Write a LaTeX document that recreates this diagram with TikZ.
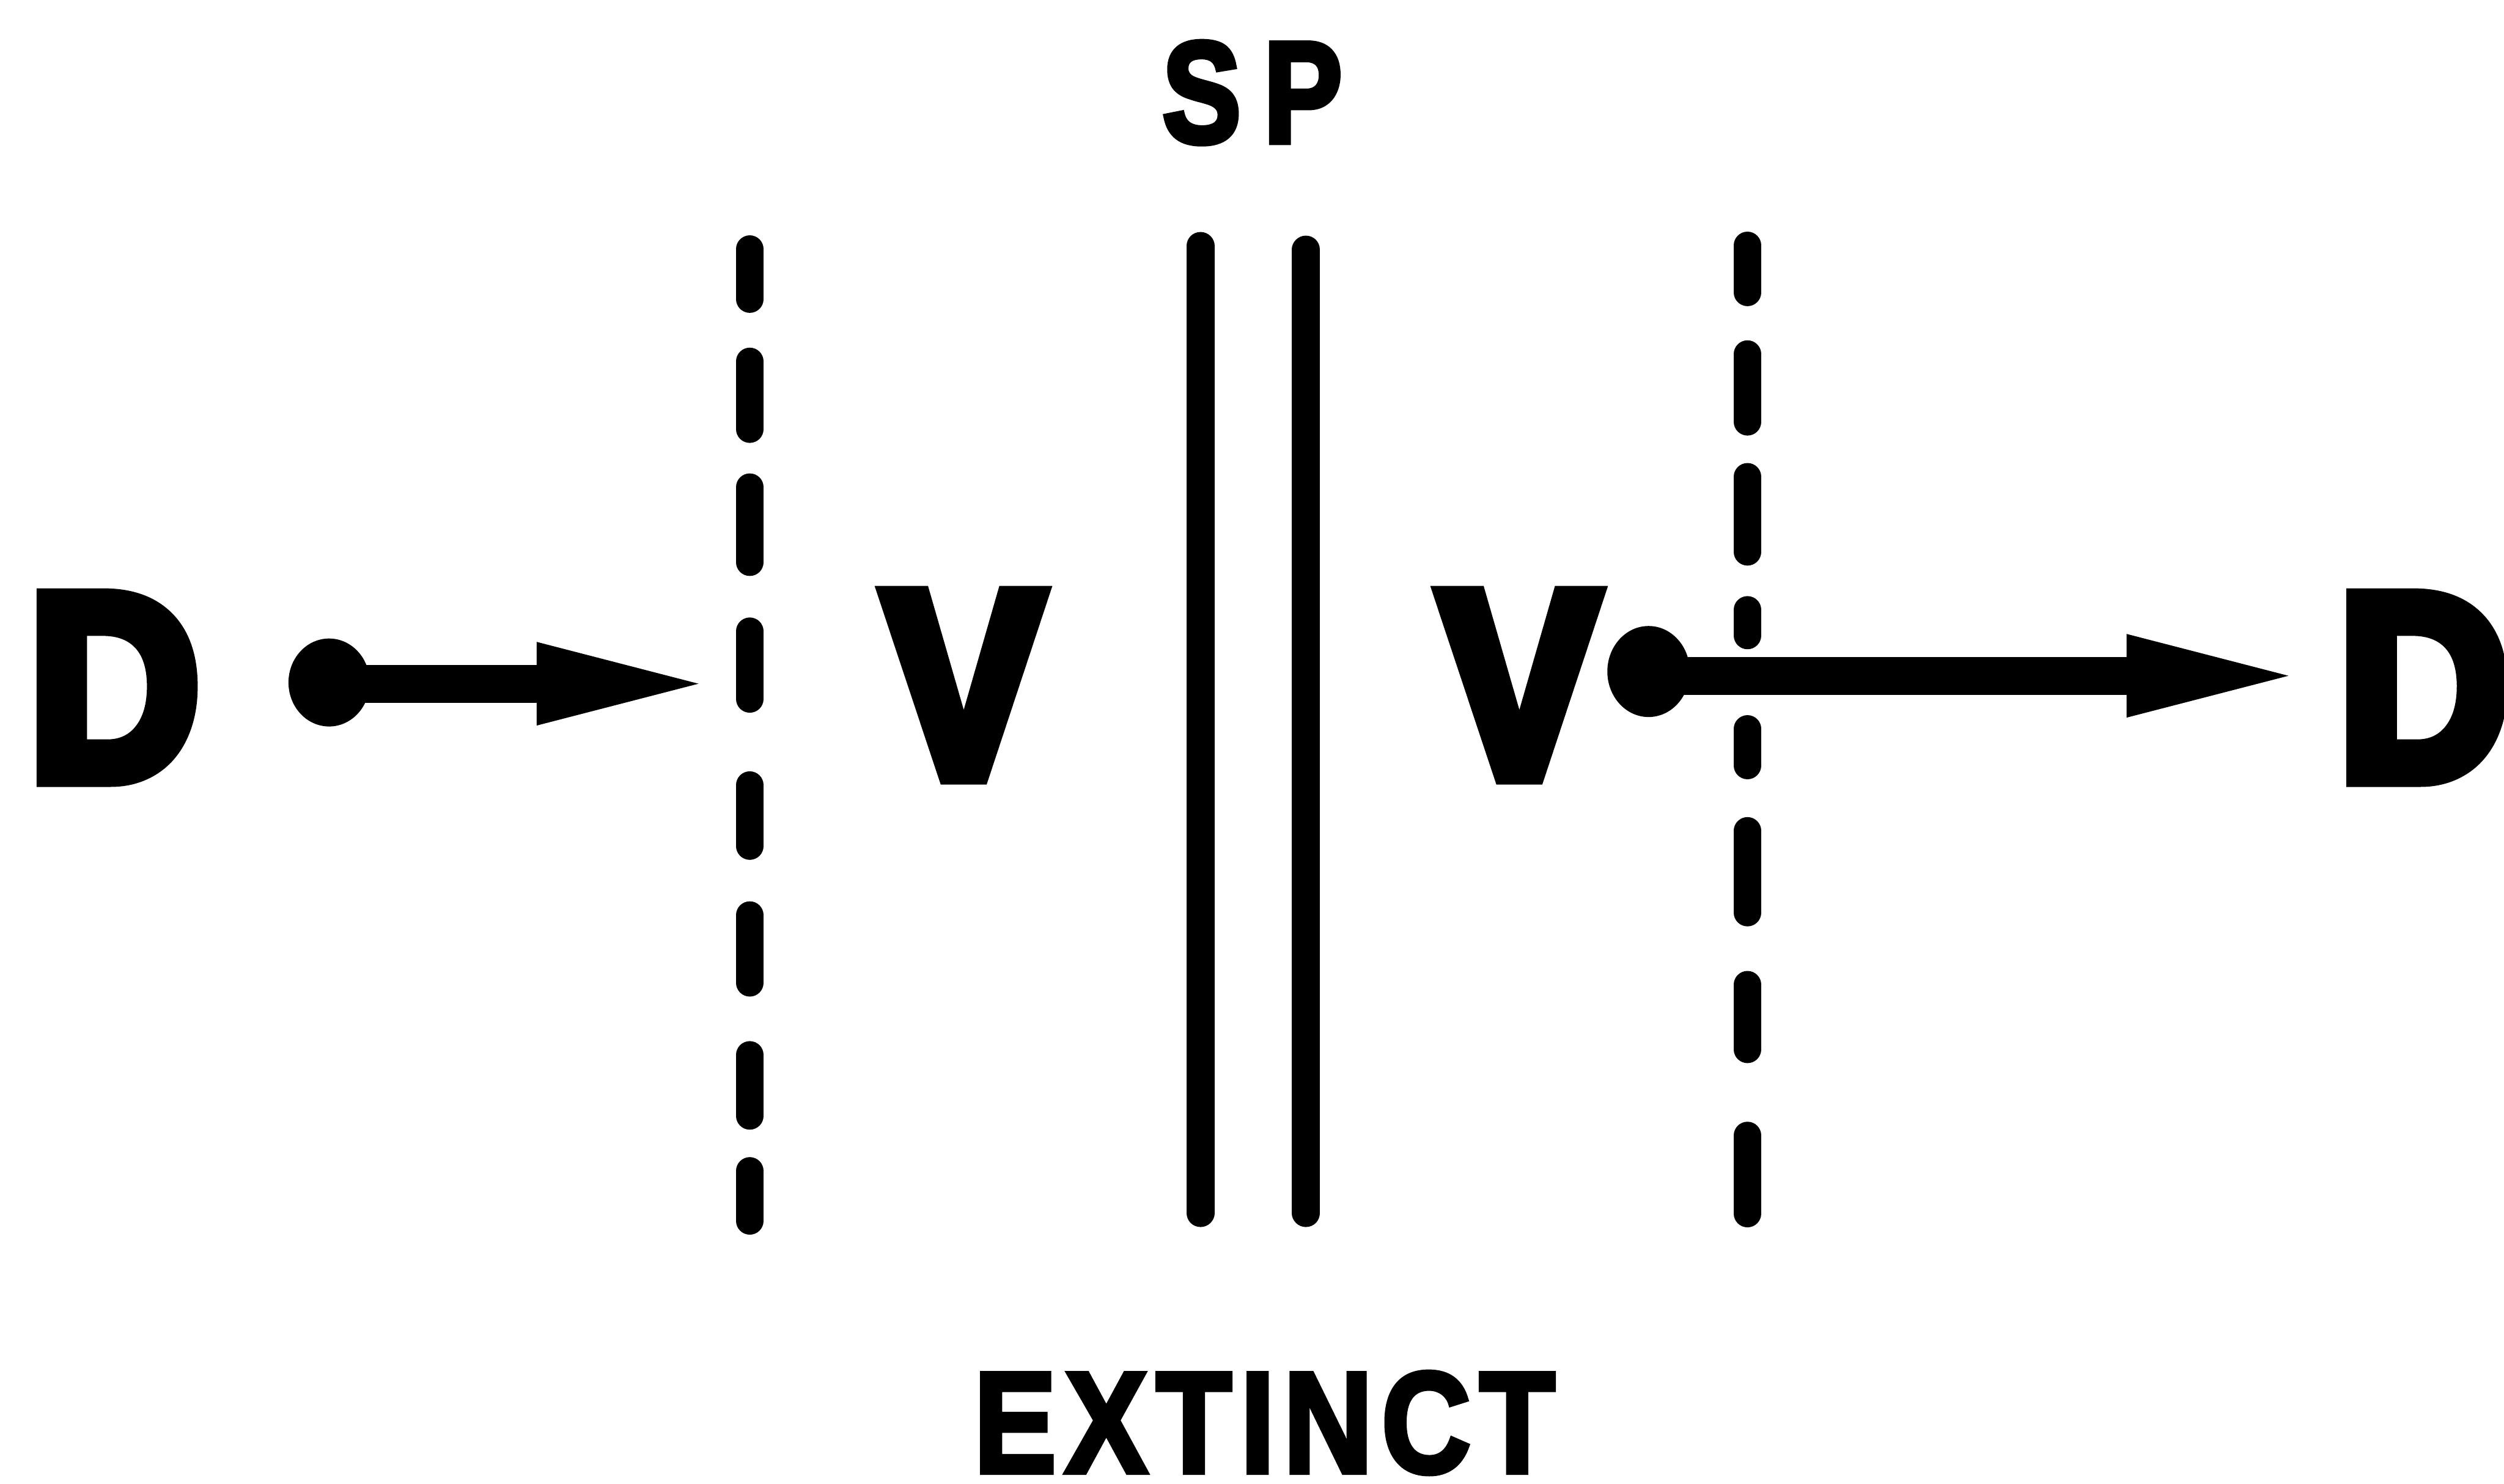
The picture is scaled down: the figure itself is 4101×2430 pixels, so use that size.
\documentclass[tikz,border=0pt]{standalone}
\usepackage{fontspec}
\setmainfont{Liberation Sans}
\newfontfamily\heavyfont{Liberation Sans Bold}[FakeBold=7]
\newfontfamily\labelfont{Liberation Sans Bold}[FakeBold=4]
\newfontfamily\extfont{Liberation Sans Bold}[FakeBold=3.5, LetterSpace=7]
\usetikzlibrary{arrows.meta,shapes.geometric}
\begin{document}
\begin{tikzpicture}[x=0.01cm,y=-0.01cm,
  bigletter/.style={inner sep=0pt, anchor=base, font=\heavyfont\fontsize{122pt}{124pt}\selectfont},
  lbl/.style={inner sep=0pt, anchor=base, font=\labelfont\fontsize{67pt}{70pt}\selectfont},
  extlbl/.style={inner sep=0pt, anchor=base, font=\extfont\fontsize{67pt}{70pt}\selectfont},
  dotnode/.style={ellipse, fill=black, inner sep=0pt, minimum width=1.33cm, minimum height=1.44cm},
  shaft/.style={line width=0.62cm, -{Triangle[length=2.65cm,width=1.37cm,line width=0pt]}},
  dashseg/.style={line width=0.45cm, line cap=round},
  barline/.style={line width=0.46cm, line cap=round}]
\useasboundingbox[fill=white] (0,0) rectangle (4101,2430);

% letters
\node[bigletter, xscale=0.9] (Dl) at (187,1274) {D};
\node[bigletter, xscale=0.9] (Vl) at (1578,1270) {V};
\node[bigletter, xscale=0.9] (Vr) at (2488,1270) {V};
\node[bigletter, xscale=0.9] (Dr) at (3970,1274) {D};
\node[lbl, xscale=0.82] (SP) at (2051,233) {S\kern0.45cm P};
\node[extlbl, xscale=0.86] (EXT) at (2071,2412) {EXTINCT};

% left arrow
\node[dotnode] (dotL) at (539,1118) {};
\coordinate (tipL) at (1144,1120);
\draw[shaft] (dotL.center |- tipL) -- (tipL);

% right arrow
\node[dotnode, minimum width=1.35cm, minimum height=1.49cm] (dotR) at (2700,1100) {};
\coordinate (tipR) at (3748,1107);
\draw[shaft] (dotR.center |- tipR) -- (tipR);

% left dashed line
\foreach \a/\b in {386/512,570/725,776/943,1012/1167,1264/1408,1477/1632,1706/1850,1896/2022}
  \draw[dashseg] (1228,\a+22) -- (1228,\b-22);
% right dashed line
\foreach \a/\b in {380/501,558/713,759/926,977/1063,1172/1276,1339/1517,1591/1741,1838/2010}
  \draw[dashseg] (2862,\a+22) -- (2862,\b-22);

% solid double line
\draw[barline] (1966,403) -- (1966,1987);
\draw[barline] (2139,409) -- (2139,1987);
\end{tikzpicture}
\end{document}
